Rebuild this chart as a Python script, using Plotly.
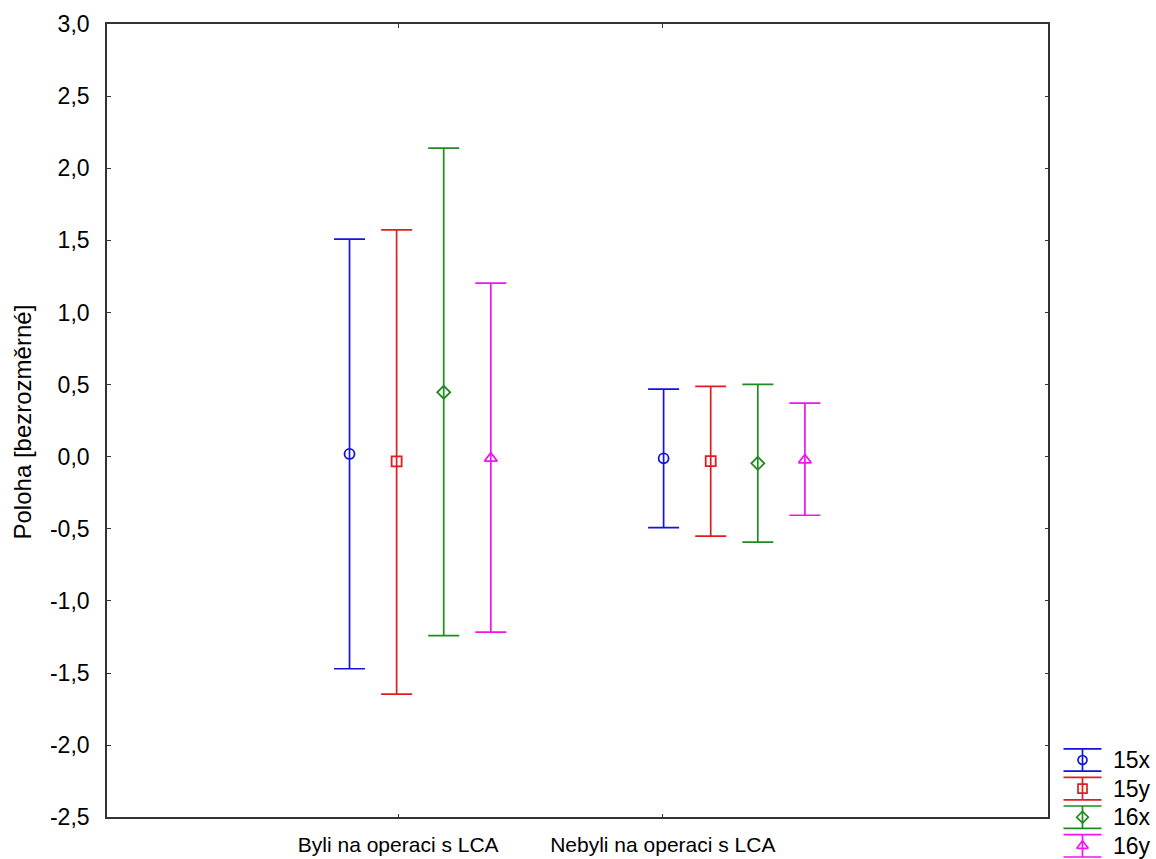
import plotly.graph_objects as go

# ---- data ----
categories = ["Byli na operaci s LCA", "Nebyli na operaci s LCA"]
series_names = ["15x", "15y", "16x", "16y"]
means = {
    "15x": [0.019, -0.011],
    "15y": [-0.032, -0.030],
    "16x": [0.447, -0.046],
    "16y": [-0.011, -0.023],
}
upper = {
    "15x": [1.508, 0.469],
    "15y": [1.572, 0.488],
    "16x": [2.139, 0.502],
    "16y": [1.203, 0.372],
}
lower = {
    "15x": [-1.470, -0.492],
    "15y": [-1.646, -0.550],
    "16x": [-1.241, -0.592],
    "16y": [-1.216, -0.406],
}
y_ticks = [-2.5, -2.0, -1.5, -1.0, -0.5, 0.0, 0.5, 1.0, 1.5, 2.0, 2.5, 3.0]
y_ticktext = [f"{v:.1f}".replace(".", ",") for v in y_ticks]

# ---- styles / layout ----
colors = {"15x": "#1414DC", "15y": "#E01E1E", "16x": "#1E8C1E", "16y": "#F014F0"}
symbols = {"15x": "circle-open", "15y": "square-open", "16x": "diamond-open", "16y": "triangle-up-open"}
msizes = {"15x": 10, "15y": 10, "16x": 10, "16y": 11}
tick_pos = [0, 1]
group_centers = [0.083, 1.270]
spacing = 0.178
W, H = 1156, 859
L, R = 107, 0
plot_left, plot_right, plot_top, plot_bottom = 106.7, 1048.3, 24, 817.3
pw = W - L - R
FONT = "Liberation Sans, Arial, sans-serif"

fig = go.Figure()
for i, s in enumerate(series_names):
    off = (i - 1.5) * spacing
    xs = [g + off for g in group_centers]
    m = means[s]
    fig.add_trace(go.Scatter(
        x=xs, y=m, mode="markers", name=s, showlegend=False,
        marker=dict(symbol=symbols[s], size=msizes[s], color=colors[s], line=dict(width=1.8, color=colors[s])),
        error_y=dict(type="data", symmetric=False,
                     array=[u - v for u, v in zip(upper[s], m)],
                     arrayminus=[v - l for l, v in zip(lower[s], m)],
                     color=colors[s], thickness=1.7, width=15.5),
        xaxis="x", yaxis="y",
    ))

# custom legend drawn in a pixel-mapped overlay axis
leg_x0, leg_y0, leg_dy, cap = 1082.5, 760, 28.6, 11.2
for i, s in enumerate(series_names):
    yy = leg_y0 + i * leg_dy
    fig.add_trace(go.Scatter(
        x=[leg_x0], y=[yy], mode="markers", showlegend=False, hoverinfo="skip",
        marker=dict(symbol=symbols[s], size=msizes[s] - 1, color=colors[s], line=dict(width=1.7, color=colors[s])),
        error_y=dict(type="constant", value=cap, color=colors[s], thickness=1.7, width=19),
        xaxis="x2", yaxis="y2",
    ))
    fig.add_annotation(x=1111, y=yy, xref="x2", yref="y2", text=s, showarrow=False,
                       xanchor="left", yanchor="middle", font=dict(size=23, color="#000", family=FONT))

x_lo = -1.1005
x_hi = 2.4568
fig.update_layout(
    width=W, height=H,
    margin=dict(l=L, r=R, t=0, b=0, autoexpand=False),
    paper_bgcolor="white", plot_bgcolor="white",
    font=dict(family=FONT, size=21, color="#000"),
    showlegend=False,
    xaxis=dict(domain=[0, (plot_right - L) / pw], range=[x_lo, x_hi], automargin=False,
               tickvals=tick_pos, ticktext=categories, ticks="inside", ticklen=4,
               tickcolor="#333", showline=True, linecolor="#333", linewidth=1.6,
               mirror="ticks", showgrid=False, zeroline=False, ticklabelstandoff=8,
               tickfont=dict(size=21)),
    yaxis=dict(domain=[(H - plot_bottom) / H, (H - plot_top) / H], range=[-2.5, 3.0], automargin=False,
               tickvals=y_ticks, ticktext=y_ticktext, ticks="inside", ticklen=4,
               tickcolor="#333", showline=True, linecolor="#333", linewidth=1.6,
               mirror="ticks", showgrid=False, zeroline=False, ticklabelstandoff=11,
               tickfont=dict(size=23)),
    xaxis2=dict(domain=[(1050 - L) / pw, 1.0], range=[1050, W], visible=False, anchor="y2"),
    yaxis2=dict(domain=[0, (H - 740) / H], range=[H, 740], visible=False, anchor="x2"),
)
fig.add_annotation(x=(22 - L) / pw, y=(H - 422.5) / H, xref="paper", yref="paper",
                   text="Poloha [bezrozměrné]", textangle=-90, showarrow=False,
                   xanchor="center", yanchor="middle", font=dict(size=24, color="#000", family=FONT))

fig.write_html("out.html")
